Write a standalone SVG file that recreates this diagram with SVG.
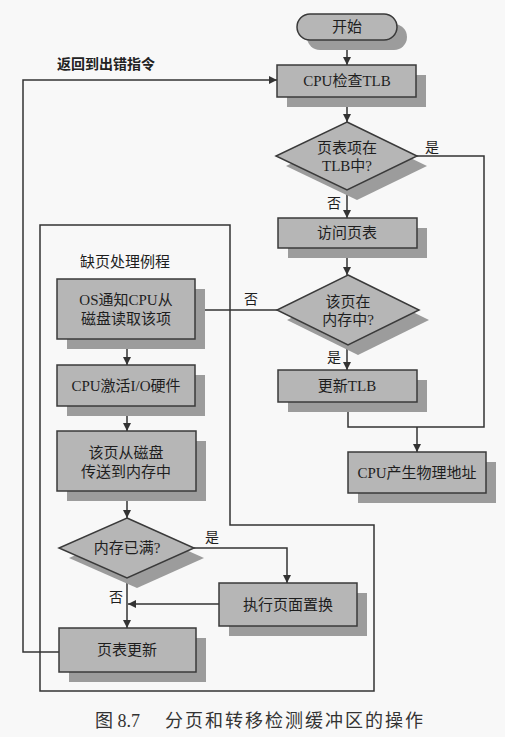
<svg xmlns="http://www.w3.org/2000/svg" width="505" height="737" viewBox="0 0 505 737">
<defs>
<style>
.box{fill:#b6b6b6;stroke:#3a3a3a;stroke-width:1.5}
.sh{fill:#9c9c9c}
.t{font-family:"Liberation Serif","Noto Sans CJK SC",serif;font-size:15px;fill:#1e1e1e;text-anchor:middle}
.lb{font-family:"Liberation Serif","Noto Sans CJK SC",serif;font-size:14px;fill:#1e1e1e;text-anchor:middle}
.ln{fill:none;stroke:#333;stroke-width:1.5}
.cap{font-family:"Liberation Serif","Noto Sans CJK SC",serif;font-size:18px;fill:#333}
</style>
<marker id="ah" viewBox="0 0 10 10" refX="10" refY="5" markerWidth="8" markerHeight="8" markerUnits="userSpaceOnUse" orient="auto">
<path d="M0,0 L10,5 L0,10 z" fill="#333"/>
</marker>
</defs>
<rect width="505" height="737" fill="#f8f8f8"/>

<g id="connectors">
<path class="ln" d="M40,225 H230 V525 H374 V691 H40 Z"/>
<path class="ln" d="M347,40 V65" marker-end="url(#ah)"/>
<path class="ln" d="M347,97 V122" marker-end="url(#ah)"/>
<path class="ln" d="M347,190 V218" marker-end="url(#ah)"/>
<path class="ln" d="M417,156 H484 V427 H348 V402"/>
<path class="ln" d="M417,427 V452" marker-end="url(#ah)"/>
<path class="ln" d="M347,248 V275" marker-end="url(#ah)"/>
<path class="ln" d="M277,310 H196" marker-end="url(#ah)"/>
<path class="ln" d="M347,345 V370" marker-end="url(#ah)"/>
<path class="ln" d="M127,339 V365" marker-end="url(#ah)"/>
<path class="ln" d="M127,406 V431" marker-end="url(#ah)"/>
<path class="ln" d="M127,491 V518" marker-end="url(#ah)"/>
<path class="ln" d="M194,548 H287 V583" marker-end="url(#ah)"/>
<path class="ln" d="M219,604 H128" marker-end="url(#ah)"/>
<path class="ln" d="M127,578 V628" marker-end="url(#ah)"/>
<path class="ln" d="M59,652 H23 V80 H277" marker-end="url(#ah)"/>
<text class="lb" x="432" y="152">是</text>
<text class="lb" x="334" y="208">否</text>
<text class="lb" x="251" y="304">否</text>
<text class="lb" x="334" y="362">是</text>
<text class="lb" x="212" y="542">是</text>
<text class="lb" x="116" y="602">否</text>
<text x="57" y="69" style="font-family:'Noto Sans CJK SC',sans-serif;font-size:14px;font-weight:bold;fill:#222">返回到出错指令</text>
<text x="80" y="267" style="font-family:'Liberation Serif','Noto Sans CJK SC',serif;font-size:15px;fill:#1e1e1e">缺页处理例程</text>
</g>

<g id="start">
<rect class="sh" x="307" y="24" width="100" height="26" rx="13"/>
<rect class="box" x="297" y="14" width="100" height="26" rx="13"/>
<text class="t" x="347" y="32">开始</text>
</g>
<g id="checkTLB">
<rect class="sh" x="287" y="75" width="139" height="32"/>
<rect class="box" x="277" y="65" width="139" height="32"/>
<text class="t" x="347" y="86">CPU检查TLB</text>
</g>
<g id="inTLB">
<polygon class="sh" points="357,132 427,166 357,200 286,166"/>
<polygon class="box" points="347,122 417,156 347,190 276,156"/>
<text class="t" x="347" y="153">页表项在</text>
<text class="t" x="347" y="171">TLB中?</text>
</g>
<g id="accessPT">
<rect class="sh" x="288" y="228" width="139" height="30"/>
<rect class="box" x="278" y="218" width="139" height="30"/>
<text class="t" x="347" y="238">访问页表</text>
</g>
<g id="inMem">
<polygon class="sh" points="358,285 429,320 358,355 287,320"/>
<polygon class="box" points="348,275 419,310 348,345 277,310"/>
<text class="t" x="348" y="307">该页在</text>
<text class="t" x="348" y="325">内存中?</text>
</g>
<g id="updateTLB">
<rect class="sh" x="288" y="380" width="139" height="32"/>
<rect class="box" x="278" y="370" width="139" height="32"/>
<text class="t" x="347" y="391">更新TLB</text>
</g>
<g id="physAddr">
<rect class="sh" x="358" y="462" width="138" height="41"/>
<rect class="box" x="348" y="452" width="138" height="41"/>
<text class="t" x="417" y="478">CPU产生物理地址</text>
</g>
<g id="osNotify">
<rect class="sh" x="67" y="289" width="138" height="60"/>
<rect class="box" x="57" y="279" width="138" height="60"/>
<text class="t" x="126" y="305">OS通知CPU从</text>
<text class="t" x="126" y="324">磁盘读取该项</text>
</g>
<g id="activateIO">
<rect class="sh" x="67" y="375" width="138" height="41"/>
<rect class="box" x="57" y="365" width="138" height="41"/>
<text class="t" x="126" y="391">CPU激活I/O硬件</text>
</g>
<g id="transfer">
<rect class="sh" x="67" y="441" width="139" height="60"/>
<rect class="box" x="57" y="431" width="139" height="60"/>
<text class="t" x="126" y="458">该页从磁盘</text>
<text class="t" x="126" y="477">传送到内存中</text>
</g>
<g id="memFull">
<polygon class="sh" points="137,528 204,558 137,588 69,558"/>
<polygon class="box" points="127,518 194,548 127,578 59,548"/>
<text class="t" x="127" y="553">内存已满?</text>
</g>
<g id="replace">
<rect class="sh" x="229" y="593" width="138" height="43"/>
<rect class="box" x="219" y="583" width="138" height="43"/>
<text class="t" x="288" y="610">执行页面置换</text>
</g>
<g id="ptUpdate">
<rect class="sh" x="69" y="638" width="137" height="44"/>
<rect class="box" x="59" y="628" width="137" height="44"/>
<text class="t" x="127" y="655">页表更新</text>
</g>
<g id="caption">
<text class="cap" x="95" y="727">图 8.7</text>
<text class="cap" x="165" y="727" textLength="258" lengthAdjust="spacing">分页和转移检测缓冲区的操作</text>
</g>
</svg>
